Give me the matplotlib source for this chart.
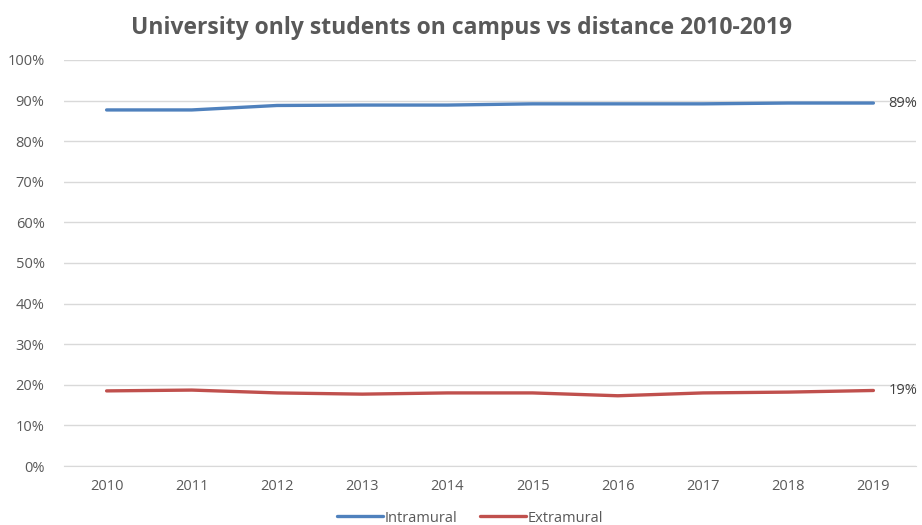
import matplotlib
matplotlib.use("Agg")
import matplotlib.pyplot as plt
from matplotlib.ticker import PercentFormatter

plt.rcParams['font.family'] = ['Open Sans', 'DejaVu Sans']

years = ['2010', '2011', '2012', '2013', '2014', '2015', '2016', '2017', '2018', '2019']
intramural = [87.7, 87.7, 88.8, 88.9, 88.9, 89.2, 89.2, 89.2, 89.4, 89.4]
extramural = [18.5, 18.7, 18.0, 17.7, 18.0, 18.0, 17.3, 18.0, 18.2, 18.6]
end_labels = ['89%', '19%']

fig = plt.figure(figsize=(9.22, 5.25), dpi=100)
ax = fig.add_axes([64 / 922, 1 - 466 / 525, (916 - 64) / 922, (466 - 60) / 525])

x = list(range(len(years)))
ax.plot(x, intramural, color='#4F81BD', lw=2.4, solid_capstyle='round', label='Intramural')
ax.plot(x, extramural, color='#C0504D', lw=2.4, solid_capstyle='round', label='Extramural')

ax.text(x[-1] + 0.18, intramural[-1], end_labels[0], va='center', ha='left', fontsize=10.5, color='#404040')
ax.text(x[-1] + 0.18, extramural[-1], end_labels[1], va='center', ha='left', fontsize=10.5, color='#404040')

ax.set_xlim(-0.5, len(years) - 0.5)
ax.set_ylim(0, 100)
ax.set_yticks(range(0, 101, 10))
ax.yaxis.set_major_formatter(PercentFormatter(decimals=0))
ax.set_xticks(x)
ax.set_xticklabels(years)
ax.grid(axis='y', color='#D9D9D9', lw=1)
ax.set_axisbelow(True)
for s in ['top', 'right', 'left']:
    ax.spines[s].set_visible(False)
ax.spines['bottom'].set_color('#D9D9D9')
ax.tick_params(length=0, labelsize=10.5, colors='#595959', pad=9)
ax.tick_params(axis='y', pad=14)

fig.suptitle('University only students on campus vs distance 2010-2019', y=1 - 28 / 525, va='center',
             fontsize=16.5, fontweight='bold', color='#595959')

fig.legend(loc='center', bbox_to_anchor=(470 / 922, 1 - 518 / 525), ncol=2, frameon=False,
           fontsize=10.5, labelcolor='#595959', handlelength=3.2, handletextpad=0.1, columnspacing=1.5)

fig.savefig('out.png', dpi=100)
